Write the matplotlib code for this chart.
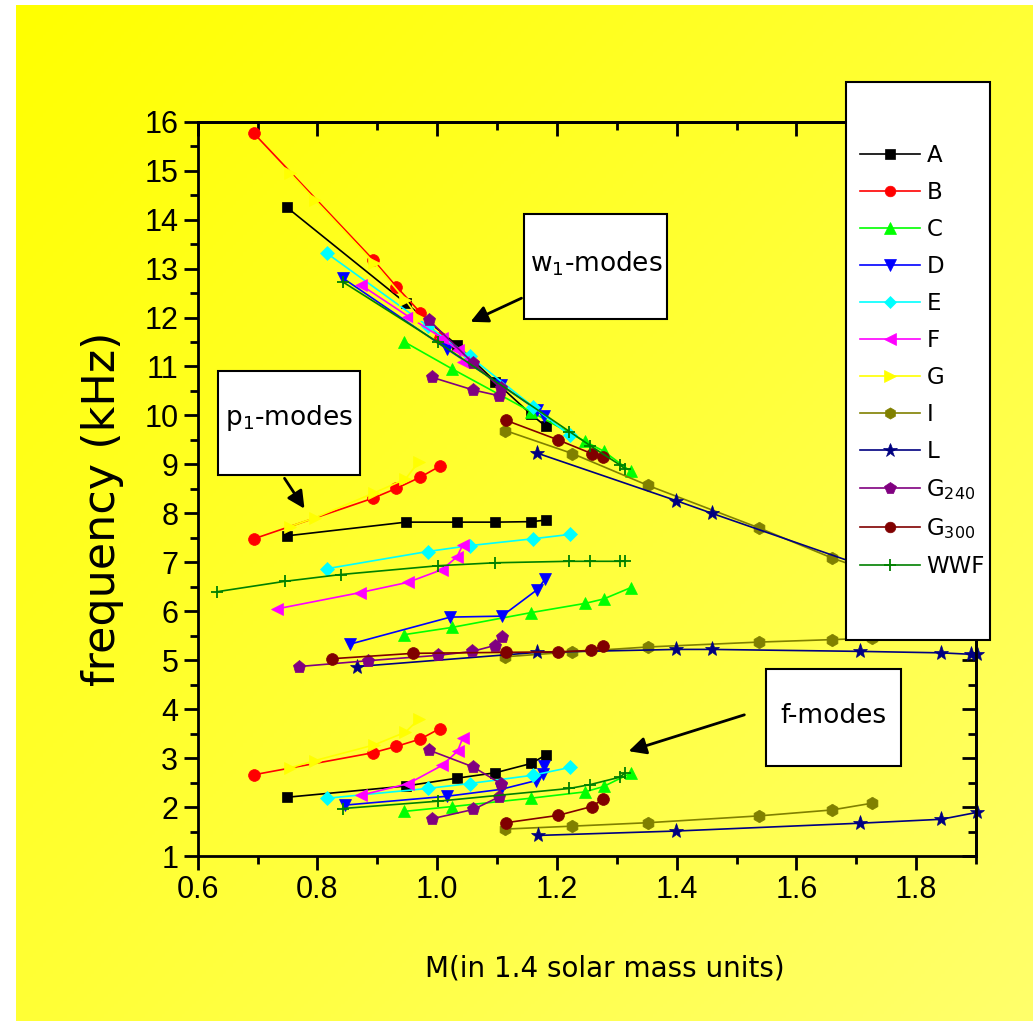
import numpy as np
import matplotlib
matplotlib.use('Agg')
import matplotlib.pyplot as plt
from matplotlib.patches import Rectangle, FancyArrowPatch
from matplotlib.ticker import MultipleLocator, NullFormatter

# mass in 1.4 solar mass units, frequency in kHz
# w = w1-modes, p = p1-modes, f = f-modes
A_m = [0.749, 0.948, 1.033, 1.097, 1.157, 1.181]
A_w = [14.25, 12.29, 11.44, 10.69, 10.02, 9.78]
A_p = [7.54, 7.82, 7.82, 7.82, 7.83, 7.86]
A_f = [2.20, 2.43, 2.59, 2.70, 2.89, 3.06]

B_m = [0.694, 0.893, 0.932, 0.972, 1.004]
B_w = [15.76, 13.18, 12.63, 12.10, 11.58]
B_p = [7.48, 8.31, 8.51, 8.74, 8.96]
B_f = [2.66, 3.11, 3.24, 3.39, 3.60]

C_m = [0.944, 1.025, 1.156, 1.247, 1.278, 1.323]
C_w = [11.51, 10.95, 10.08, 9.47, 9.27, 8.86]
C_p = [5.52, 5.67, 5.97, 6.16, 6.25, 6.48]
C_f = [1.91, 2.01, 2.18, 2.31, 2.42, 2.69]

D_m_w = [0.843, 1.016, 1.107, 1.166, 1.178]
D_w = [12.80, 11.36, 10.62, 10.12, 9.98]
D_m_p = [0.855, 1.022, 1.108, 1.167, 1.180]
D_p = [5.33, 5.88, 5.90, 6.44, 6.65]
D_m_f = [0.846, 1.016, 1.106, 1.165, 1.176, 1.179]
D_f = [2.04, 2.22, 2.36, 2.54, 2.67, 2.84]

E_m = [0.816, 0.984, 1.054, 1.160, 1.222]
E_w = [13.31, 11.83, 11.21, 10.18, 9.59]
E_p = [6.87, 7.22, 7.34, 7.48, 7.57]
E_f = [2.18, 2.38, 2.48, 2.65, 2.81]

F_m = [0.872, 0.952, 1.008, 1.034, 1.043]
F_w = [12.67, 12.02, 11.58, 11.34, 11.10]
F_f = [2.24, 2.48, 2.85, 3.14, 3.42]
F_m_p = [0.733, 0.871, 0.951, 1.008, 1.033, 1.043]
F_p = [6.05, 6.38, 6.59, 6.85, 7.11, 7.36]

G_m = [0.754, 0.796, 0.895, 0.947, 0.969]
G_w = [14.95, 14.40, 13.11, 12.36, 11.99]
G_p = [7.73, 7.91, 8.42, 8.70, 9.05]
G_f = [2.80, 2.95, 3.27, 3.53, 3.79]

I_m = [1.114, 1.226, 1.352, 1.538, 1.659, 1.727]
I_w = [9.69, 9.22, 8.57, 7.70, 7.09, 6.80]
I_p = [5.07, 5.17, 5.27, 5.37, 5.42, 5.45]
I_f = [1.55, 1.61, 1.68, 1.82, 1.94, 2.08]

L_m_w = [1.167, 1.399, 1.459, 1.706, 1.842, 1.901]
L_w = [9.23, 8.26, 8.00, 6.95, 6.45, 6.25]
L_m_p = [0.866, 1.167, 1.399, 1.459, 1.706, 1.842, 1.892, 1.901]
L_p = [4.87, 5.16, 5.22, 5.22, 5.18, 5.15, 5.12, 5.12]
L_m_f = [1.168, 1.399, 1.706, 1.842, 1.901]
L_f = [1.42, 1.51, 1.67, 1.75, 1.89]

G240_m = [0.991, 1.060, 1.104, 1.106, 1.060, 0.987]
G240_w = [10.78, 10.52, 10.40, 10.56, 11.07, 11.94]
G240_f = [1.76, 1.95, 2.21, 2.48, 2.82, 3.16]
G240_m_p = [0.769, 0.885, 1.002, 1.059, 1.096, 1.108]
G240_p = [4.87, 4.99, 5.10, 5.18, 5.30, 5.48]

G300_m = [1.115, 1.202, 1.258, 1.277]
G300_w = [9.90, 9.50, 9.22, 9.15]
G300_f = [1.68, 1.83, 2.01, 2.16]
G300_m_p = [0.824, 0.960, 1.115, 1.202, 1.257, 1.277]
G300_p = [5.03, 5.14, 5.16, 5.17, 5.20, 5.29]

WWF_m = [0.842, 1.002, 1.221, 1.256, 1.305, 1.314]
WWF_w = [12.73, 11.49, 9.67, 9.38, 8.99, 8.91]
WWF_f = [1.97, 2.12, 2.38, 2.46, 2.61, 2.70]
WWF_m_p = [0.633, 0.745, 0.839, 1.002, 1.097, 1.220, 1.255, 1.305, 1.314]
WWF_p = [6.40, 6.61, 6.75, 6.93, 6.99, 7.02, 7.02, 7.02, 7.02]

# label, colour, marker, size, branches
series = [
    ('A', 'black', 's', 7.5, [(A_m, A_w), (A_m, A_p), (A_m, A_f)]),
    ('B', '#ff0000', 'o', 8.5, [(B_m, B_w), (B_m, B_p), (B_m, B_f)]),
    ('C', '#00ff00', '^', 9, [(C_m, C_w), (C_m, C_p), (C_m, C_f)]),
    ('D', '#0000ff', 'v', 9, [(D_m_w, D_w), (D_m_p, D_p), (D_m_f, D_f)]),
    ('E', '#00ffff', 'D', 7, [(E_m, E_w), (E_m, E_p), (E_m, E_f)]),
    ('F', '#ff00ff', '<', 9, [(F_m, F_w), (F_m_p, F_p), (F_m, F_f)]),
    ('G', '#ffff00', '>', 9, [(G_m, G_w), (G_m, G_p), (G_m, G_f)]),
    ('I', '#808000', 'h', 9, [(I_m, I_w), (I_m, I_p), (I_m, I_f)]),
    ('L', '#000080', '*', 11, [(L_m_w, L_w), (L_m_p, L_p), (L_m_f, L_f)]),
    ('G$_{240}$', '#800080', 'p', 9.5, [(G240_m, G240_w), (G240_m_p, G240_p), (G240_m, G240_f)]),
    ('G$_{300}$', '#800000', 'o', 8.5, [(G300_m, G300_w), (G300_m_p, G300_p), (G300_m, G300_f)]),
    ('WWF', '#008000', '+', 9, [(WWF_m, WWF_w), (WWF_m_p, WWF_p), (WWF_m, WWF_f)]),
]

W, H = 1033, 1021
fig = plt.figure(figsize=(W / 100, H / 100), dpi=100)
fig.patch.set_facecolor('white')

# yellow gradient background
bg = fig.add_axes([0, 0, 1, 1], zorder=-10)
bg.axis('off')
yy, xx = np.mgrid[0:1:300j, 0:1:300j]
t = (xx + yy) / 2
img = np.dstack([np.ones_like(t), np.ones_like(t), 0.42 * t])
bg.imshow(img, extent=[16 / W, 1, 0, 1 - 6 / H], origin='upper', aspect='auto')
bg.set_xlim(0, 1)
bg.set_ylim(0, 1)

ax = fig.add_axes([197.7 / W, 1 - 856 / H, (976 - 197.7) / W, (856 - 121.7) / H])
ax.patch.set_alpha(0)

handles = []
for label, color, marker, ms, branches in series:
    for i, (m, fr) in enumerate(branches):
        kw = dict(color=color, marker=marker, markersize=ms, lw=1.2,
                  markeredgecolor=color, clip_on=False)
        if marker == '+':
            kw['markeredgewidth'] = 1.3
        else:
            kw['markeredgewidth'] = 0.5
        line, = ax.plot(m, fr, **kw)
        if i == 0:
            handles.append(line)

ax.set_xlim(0.6, 1.9)
ax.set_ylim(1, 16)
ax.xaxis.set_major_locator(MultipleLocator(0.2))
ax.xaxis.set_minor_locator(MultipleLocator(0.1))
ax.yaxis.set_major_locator(MultipleLocator(1))
ax.yaxis.set_minor_locator(MultipleLocator(0.5))
ax.xaxis.set_major_formatter(plt.FuncFormatter(lambda v, p: '%.1f' % v))
for s in ax.spines.values():
    s.set_linewidth(2)
ax.tick_params(which='both', direction='out', width=2, labelsize=22, pad=4)
ax.tick_params(which='major', length=10)
ax.tick_params(which='minor', length=5.5)
for lab in ax.get_xticklabels() + ax.get_yticklabels():
    lab.set_fontfamily('Liberation Sans')

# inward ticks on top and right
top = ax.secondary_xaxis('top')
top.xaxis.set_major_locator(MultipleLocator(0.2))
top.xaxis.set_minor_locator(MultipleLocator(0.1))
top.xaxis.set_major_formatter(NullFormatter())
top.tick_params(which='both', direction='in', width=2)
top.tick_params(which='major', length=10)
top.tick_params(which='minor', length=5.5)
top.spines['top'].set_linewidth(2)
right = ax.secondary_yaxis('right')
right.yaxis.set_major_locator(MultipleLocator(1))
right.yaxis.set_minor_locator(MultipleLocator(0.5))
right.yaxis.set_major_formatter(NullFormatter())
right.tick_params(which='both', direction='in', width=2)
right.tick_params(which='major', length=10)
right.tick_params(which='minor', length=5.5)
right.spines['right'].set_linewidth(2)

fig.text(103 / W, 1 - 509 / H, 'frequency (kHz)', rotation=90, fontsize=32,
         ha='center', va='center')
fig.text(605 / W, 1 - 968 / H, 'M(in 1.4 solar mass units)', fontsize=20,
         ha='center', va='center')


def px_box(x0, y0, x1, y1):
    fig.add_artist(Rectangle((x0 / W, 1 - y1 / H), (x1 - x0) / W, (y1 - y0) / H,
                             transform=fig.transFigure, facecolor='white',
                             edgecolor='black', lw=1.5, zorder=3))


def px_arrow(x0, y0, x1, y1):
    fig.add_artist(FancyArrowPatch((x0 / W, 1 - y0 / H), (x1 / W, 1 - y1 / H),
                                   transform=fig.transFigure, arrowstyle='-|>',
                                   mutation_scale=26, lw=2, color='black', zorder=3))


# mode annotations
px_box(524, 214, 667, 319)
fig.text(596 / W, 1 - 264 / H, 'w$_1$-modes', fontsize=19, ha='center', va='center', zorder=4)
px_arrow(524, 297, 468, 323)

px_box(218, 371, 360, 475)
fig.text(289 / W, 1 - 418 / H, 'p$_1$-modes', fontsize=19, ha='center', va='center', zorder=4)
px_arrow(283, 476, 306, 511)

px_box(766, 669, 901, 766)
fig.text(833 / W, 1 - 716 / H, 'f-modes', fontsize=19, ha='center', va='center', zorder=4)
px_arrow(747, 714, 626, 752)

# legend box
px_box(846, 82, 990, 640)
fig.legend(handles, [s[0] for s in series], loc='upper left',
           bbox_to_anchor=(860 / W, 1 - 144 / H), frameon=False, fontsize=16.5,
           handlelength=2.6, handletextpad=0.3, labelspacing=0.61,
           borderpad=0, borderaxespad=0, markerscale=0.9)

fig.savefig('out.png', dpi=100)
